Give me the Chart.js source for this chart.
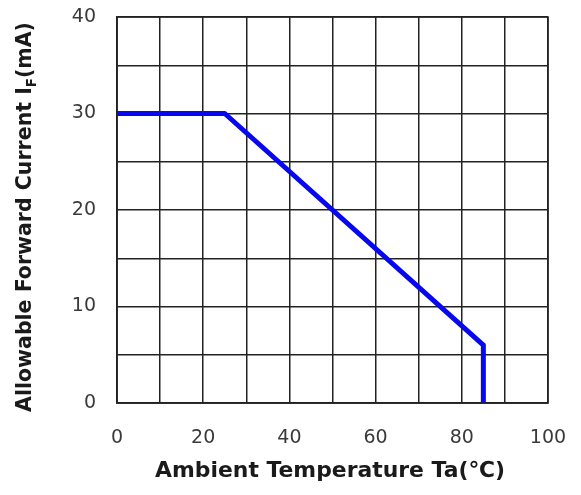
<!DOCTYPE html>
<html><head><meta charset="utf-8">
<script src="https://cdn.jsdelivr.net/npm/chart.js@4"></script>
<style>html,body{margin:0;padding:0;background:#fff;}#wrap{width:581px;height:495px;}</style>
</head><body><div id="wrap"><canvas id="c" width="581" height="495"></canvas></div>
<script>
const temperatures = [0, 25, 85, 85];
const currents = [30, 30, 6, 0];
const xTickLabels = [0, 20, 40, 60, 80, 100];
const yTickLabels = [0, 10, 20, 30, 40];
const xTitle = 'Ambient Temperature Ta(\u2103)';
const yTitleMain = 'Allowable Forward Current I';
const yTitleSub = 'F';
const yTitleEnd = '(mA)';

const TITLE_FAMILY = '"DejaVu Sans", "Liberation Sans", Arial, sans-serif';
const TICK_FAMILY = '"DejaVu Sans", "Liberation Sans", Arial, sans-serif';

const titlePlugin = {
  id: 'titles',
  afterDraw(chart) {
    const ctx = chart.ctx;
    ctx.save();
    ctx.fillStyle = '#1a1a1a';
    ctx.font = 'bold 20px ' + TITLE_FAMILY;
    let w = ctx.measureText(xTitle).width;
    let fs = 20 * 350 / w;
    ctx.font = 'bold ' + fs.toFixed(2) + 'px ' + TITLE_FAMILY;
    ctx.textAlign = 'center'; ctx.textBaseline = 'middle';
    ctx.fillText(xTitle, 330, 471);
    ctx.translate(26, 217);
    ctx.rotate(-Math.PI / 2);
    const measure = (s) => {
      const f1 = 'bold ' + s + 'px ' + TITLE_FAMILY;
      const f2 = 'bold ' + (s * 0.65) + 'px ' + TITLE_FAMILY;
      ctx.font = f1; const w1 = ctx.measureText(yTitleMain).width; const w3 = ctx.measureText(yTitleEnd).width;
      ctx.font = f2; const w2 = ctx.measureText(yTitleSub).width;
      return { f1, f2, w1, w2, w3, total: w1 + w2 + w3 };
    };
    let m = measure(20);
    const s = 20 * 390 / m.total;
    m = measure(s);
    let x = -m.total / 2;
    ctx.textAlign = 'left';
    ctx.font = m.f1; ctx.fillText(yTitleMain, x, 0); x += m.w1;
    ctx.font = m.f2; ctx.fillText(yTitleSub, x, s * 0.3); x += m.w2;
    ctx.font = m.f1; ctx.fillText(yTitleEnd, x, 0);
    ctx.restore();
  }
};

new Chart(document.getElementById('c'), {
  type: 'scatter',
  data: { datasets: [{
    data: temperatures.map((t, i) => ({ x: t, y: currents[i] })),
    showLine: true, borderColor: '#0808ee', borderWidth: 5, pointRadius: 0,
    borderJoinStyle: 'round', borderCapStyle: 'butt', tension: 0
  }]},
  options: {
    responsive: false, animation: false, devicePixelRatio: 1,
    layout: { padding: { left: 0, right: 33, top: 17, bottom: 0 } },
    plugins: { legend: { display: false }, tooltip: { enabled: false } },
    scales: {
      x: {
        type: 'linear', min: 0, max: 100,
        afterFit: s => { s.height = 92; s.paddingLeft = 0; s.paddingRight = 0; },
        border: { display: true, color: '#222', width: 1.5 },
        grid: { color: '#222', lineWidth: 1.5, drawTicks: false },
        ticks: { stepSize: 10, padding: 24, color: '#3a3a3a', maxRotation: 0, autoSkip: false,
          font: { family: TICK_FAMILY, size: 19 },
          callback: v => xTickLabels.includes(v) ? String(v) : '' }
      },
      y: {
        type: 'linear', min: 0, max: 40,
        afterFit: s => { s.width = 117; s.paddingTop = 0; s.paddingBottom = 0; },
        border: { display: true, color: '#222', width: 1.5 },
        grid: { color: '#222', lineWidth: 1.5, drawTicks: false },
        ticks: { stepSize: 5, padding: 21, color: '#3a3a3a', autoSkip: false,
          font: { family: TICK_FAMILY, size: 19 },
          callback: v => yTickLabels.includes(v) ? String(v) : '' }
      }
    }
  },
  plugins: [titlePlugin, {
    id: 'frame',
    afterDraw(chart) {
      const ctx = chart.ctx, a = chart.chartArea;
      ctx.save(); ctx.strokeStyle = '#222'; ctx.lineWidth = 1.5;
      ctx.strokeRect(a.left, a.top, a.right - a.left, a.bottom - a.top);
      ctx.restore();
    }
  }]
});
</script></body></html>
